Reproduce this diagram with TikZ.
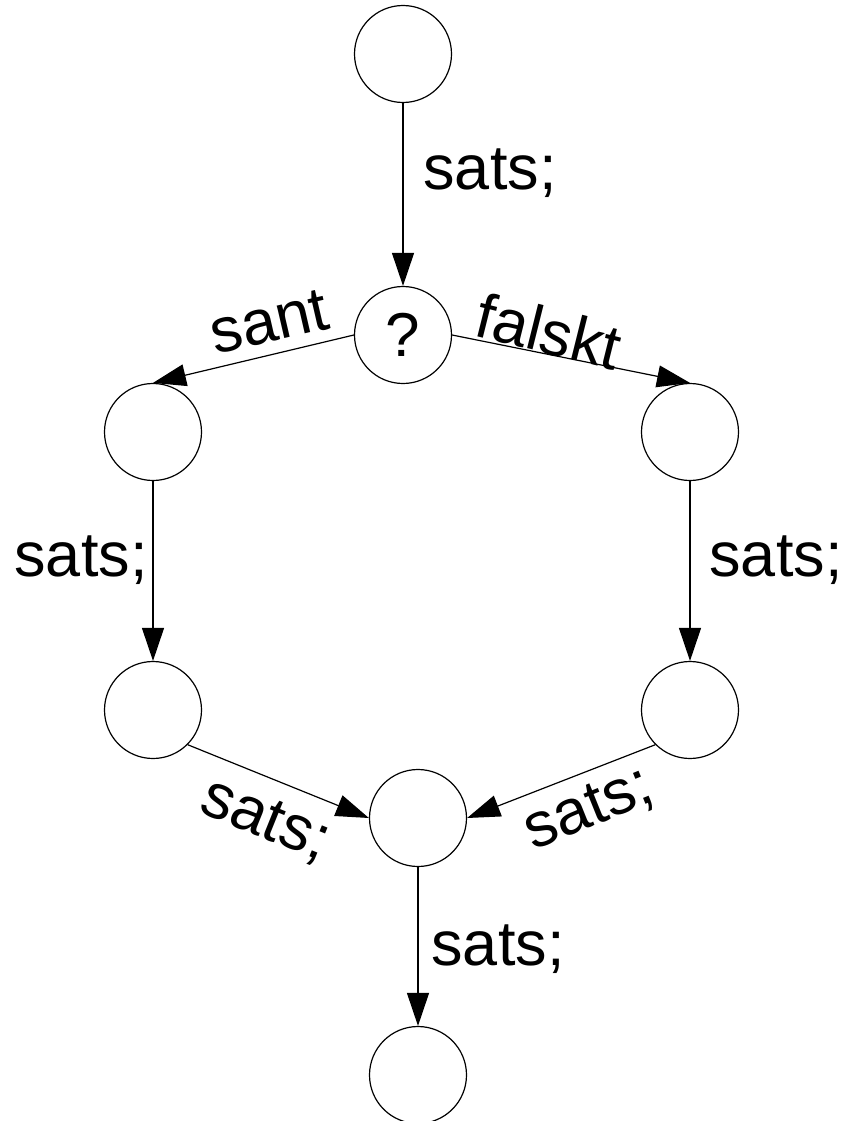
\documentclass[tikz,border=0pt]{standalone}
\usepackage{fontspec}
\setmainfont{Liberation Sans}
\usetikzlibrary{arrows.meta}
\begin{document}
\begin{tikzpicture}[x=1pt,y=-1pt,
  state/.style={draw, circle, line width=1.2pt, minimum size=97pt, inner sep=0pt,
    font=\fontsize{62}{74}\selectfont},
  lbl/.style={inner sep=0pt, font=\fontsize{63}{76}\selectfont},
  flow/.style={line width=1.2pt, -{Triangle[length=33pt,width=22pt]}}]
\useasboundingbox (0,0) rectangle (848,1121);

% states
\node[state] (top) at (403,54) {};
\node[state] (q)   at (403,335) {?};
\node[state] (l1)  at (153,432) {};
\node[state] (r1)  at (690,432) {};
\node[state] (l2)  at (153,710) {};
\node[state] (r2)  at (690,710) {};
\node[state] (m)   at (418,818) {};
\node[state] (bot) at (418,1075) {};

% transitions
\draw[flow] (top.south) -- (q.north);
\draw[flow] (q.west) -- (l1.north);
\draw[flow] (q.east) -- (r1.north);
\draw[flow] (l1.south) -- (l2.north);
\draw[flow] (r1.south) -- (r2.north);
\draw[flow] (l2.south east) -- (m.west);
\draw[flow] (r2.south west) -- (m.east);
\draw[flow] (m.south) -- (bot.north);

% labels
\node[lbl] (t1) at (490,173) {sats;};
\node[lbl, rotate=13] (ts) at (269,322) {sant};
\node[lbl, rotate=-14] (tf) at (549,331) {falskt};
\node[lbl] (tl) at (81,560) {sats;};
\node[lbl] (tr) at (776,560) {sats;};
\node[lbl, rotate=-22] (tbl) at (265,821) {sats;};
\node[lbl, rotate=22] (tbr) at (589,810) {sats;};
\node[lbl] (tb) at (498,949) {sats;};
\end{tikzpicture}
\end{document}
